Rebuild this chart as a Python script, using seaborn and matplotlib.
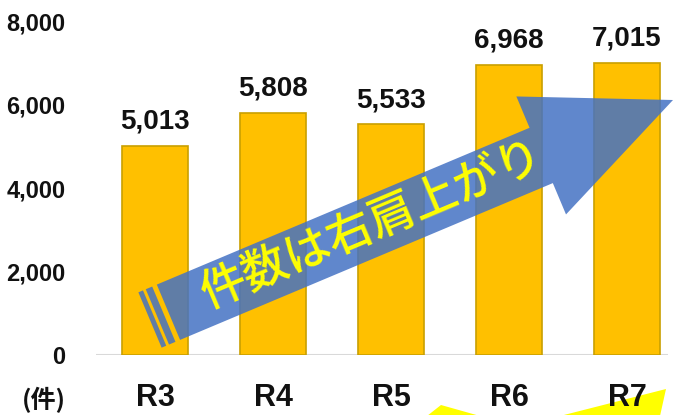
import numpy as np
import seaborn as sns
import matplotlib.pyplot as plt
from matplotlib.patches import Polygon
from matplotlib.ticker import FuncFormatter

# データ
years = ["R3", "R4", "R5", "R6", "R7"]
counts = [5013, 5808, 5533, 6968, 7015]
y_ticks = [0, 2000, 4000, 6000, 8000]
banner_text = "件数は右肩上がり"
unit_label = "(件)"

W, H = 677, 415
sns.set_theme(style="white")
plt.rcParams["font.family"] = ["Liberation Sans", "Noto Sans CJK JP", "DejaVu Sans"]

fig = plt.figure(figsize=(W / 100, H / 100), dpi=100)
ax = fig.add_axes([96 / W, (H - 355) / H, 572 / W, 355 / H])
ax.set_facecolor("none")

sns.barplot(x=years, y=counts, color="#FFC000", saturation=1, width=0.56,
            edgecolor="#C9A000", linewidth=1.2, ax=ax)
ax.bar_label(ax.containers[0], labels=[f"{v:,}" for v in counts],
             padding=8, fontsize=20, fontweight="bold", color="#111111")

ax.set_xlim(-0.5, 4.347)
ax.set_ylim(0, 8516)
ax.set_yticks(y_ticks)
ax.yaxis.set_major_formatter(FuncFormatter(lambda v, p: f"{int(v):,}"))
ax.axhline(0, color="#D9D9D9", lw=1.5, zorder=0)
sns.despine(ax=ax, left=True, bottom=True)
ax.tick_params(axis="y", length=0, pad=22, labelsize=17)
ax.tick_params(axis="x", length=0, pad=20, labelsize=22)
for lab in ax.get_xticklabels() + ax.get_yticklabels():
    lab.set_fontweight("bold")
    lab.set_color("#111111")
ax.set_xlabel("")
ax.set_ylabel("")

fig.text(44 / W, (H - 400) / H, unit_label, ha="center", va="center",
         fontsize=18, fontweight="bold", family=["Noto Sans CJK JP"], color="#111111")


# 矢印（画像ピクセル座標で定義 → figure 座標へ）
def to_fig(pts):
    pts = np.asarray(pts, dtype=float)
    return np.column_stack([pts[:, 0] / W, (H - pts[:, 1]) / H])


tail = np.array([150.0, 320.0])
tip = np.array([673.0, 100.0])
d = (tip - tail) / np.linalg.norm(tip - tail)
n = np.array([-d[1], d[0]])
L = np.linalg.norm(tip - tail)
half_w, head_len, head_half = 30, 143, 64


def local(u, v):
    return tail + d * u + n * v


blue = dict(facecolor="#4472C4", alpha=0.85, edgecolor="none", zorder=2)
for u0, u1 in [(0, 5), (8, 15)]:
    fig.add_artist(Polygon(to_fig([local(u0, -half_w), local(u1, -half_w),
                                   local(u1, half_w), local(u0, half_w)]),
                           transform=fig.transFigure, **blue))
body = [local(20, -half_w), local(L - head_len, -half_w), local(L - head_len, -head_half),
        local(L, 0), local(L - head_len, head_half), local(L - head_len, half_w),
        local(20, half_w)]
fig.add_artist(Polygon(to_fig(body), transform=fig.transFigure, **blue))

angle = np.degrees(np.arctan2(-(tip[1] - tail[1]), tip[0] - tail[0]))
c = to_fig([local(242, -2)])[0]
fig.text(c[0], c[1], banner_text, rotation=angle, rotation_mode="anchor",
         ha="center", va="center", fontsize=33, color="#FFFF00",
         family=["Noto Sans CJK JP"], fontweight="medium", zorder=3)

# 下端の黄色い図形（切れている装飾）
yellow = dict(facecolor="#FFFF00", edgecolor="none", zorder=-1)
fig.add_artist(Polygon(to_fig([(427, 416), (441, 405), (480, 416)]),
                       transform=fig.transFigure, **yellow))
fig.add_artist(Polygon(to_fig([(560, 416), (666, 389), (660, 416)]),
                       transform=fig.transFigure, **yellow))

fig.savefig("out.png", dpi=100)
